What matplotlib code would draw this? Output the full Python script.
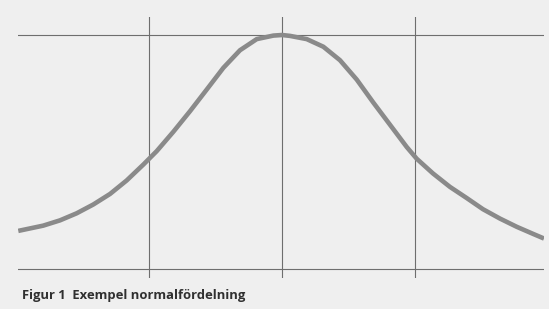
import matplotlib
matplotlib.use("Agg")
import matplotlib.pyplot as plt

# Data (x in standard deviations, y as density)
x_values = [-1.983, -1.795, -1.669, -1.544, -1.419, -1.293, -1.168, -1.043, -0.942,
            -0.817, -0.692, -0.566, -0.441, -0.316, -0.190, -0.065, 0.000, 0.060,
            0.186, 0.311, 0.436, 0.562, 0.686, 0.812, 0.938, 1.013, 1.135, 1.263,
            1.389, 1.511, 1.639, 1.765, 1.887, 1.970]
y_values = [0.065, 0.074, 0.083, 0.095, 0.110, 0.128, 0.151, 0.178, 0.201,
            0.234, 0.269, 0.306, 0.343, 0.373, 0.392, 0.398, 0.399, 0.3975,
            0.392, 0.379, 0.356, 0.323, 0.284, 0.246, 0.208, 0.188, 0.163,
            0.140, 0.121, 0.102, 0.086, 0.072, 0.060, 0.052]
grid_x = [-1, 0, 1]
grid_y = [0.0, 0.399]
caption = "Figur 1  Exempel normalfördelning"

W, H = 549, 309
fig = plt.figure(figsize=(W / 100, H / 100), dpi=100)
bg = "#efefef"
fig.patch.set_facecolor(bg)

ax = fig.add_axes([18 / W, (H - 278) / H, 526 / W, 261 / H])
ax.set_facecolor(bg)
ax.set_xlim(-1.985, 1.97)
ax.set_ylim(-0.0153, 0.4297)
for s in ax.spines.values():
    s.set_visible(False)
ax.set_xticks([])
ax.set_yticks([])

for gx in grid_x:
    ax.axvline(gx, color="#6e6e6e", lw=0.8, zorder=1)
for gy in grid_y:
    ax.axhline(gy, color="#6e6e6e", lw=0.8, zorder=1)

ax.plot(x_values, y_values, color="#8a8a8a", lw=3.3, solid_joinstyle="round",
        solid_capstyle="butt", zorder=3)

fig.text(22 / W, 1 - 296 / H, caption, fontsize=9.4, fontweight="bold",
         family=["Open Sans", "DejaVu Sans"], color="#303030", va="center", ha="left")

fig.savefig("out.png", dpi=100, facecolor=bg)
